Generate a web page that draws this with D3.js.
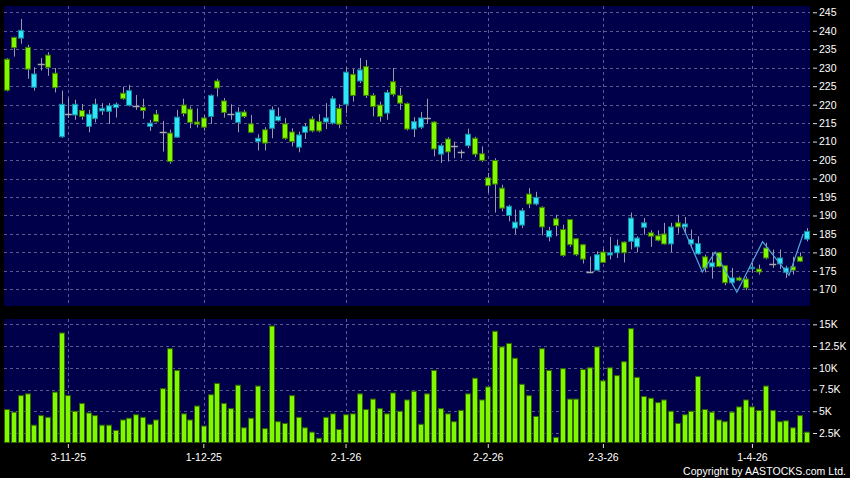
<!DOCTYPE html>
<html>
<head>
<meta charset="utf-8">
<script src="https://cdnjs.cloudflare.com/ajax/libs/d3/7.8.5/d3.min.js"></script>
<style>
  body { margin: 0; background: #000; }
  svg { display: block; }
  text { font-family: "Liberation Sans", Arial, sans-serif; fill: #fff; }
</style>
</head>
<body>
<script>
// Daily candles, oldest first (price in HKD)
const opens = [223.9,235.4,240.1,229.6,228.3,231.0,230.1,224.6,220.1,217.4,
  220.1,216.8,217.4,220.1,219.0,219.7,220.1,221.6,223.8,219.5,
  218.4,215.0,215.4,212.7,204.6,216.6,217.6,215.2,214.7,213.9,
  222.5,224.5,217.9,217.4,218.0,216.8,212.5,210.9,209.6,218.6,
  216.8,210.9,210.0,211.8,214.1,212.9,212.9,216.4,221.6,214.7,
  228.8,222.5,229.4,222.5,219.5,216.8,223.3,222.8,220.4,213.4,
  215.4,216.4,216.4,208.0,208.9,207.2,208.7,207.2,212.0,206.6,
  204.9,198.1,198.5,192.0,192.5,188.2,191.3,193.1,194.9,186.9,
  185.9,187.3,179.2,182.1,179.4,178.2,174.7,179.4,177.3,179.9,
  181.8,179.9,189.3,183.9,188.0,184.4,183.3,182.3,186.9,186.9,
  187.7,183.5,182.4,175.8,177.2,176.2,171.8,173.1,172.5,170.4,
  176.0,174.7,178.5,177.0,178.5,175.8,175.2,177.6,185.7];
const highs = [232.6,238.4,243.2,236.2,230.1,232.6,234.2,229.9,223.8,221.8,
  221.3,220.2,218.6,221.6,220.4,220.4,220.6,224.9,225.4,222.6,
  221.6,215.9,218.6,215.6,213.2,218.6,221.6,219.5,219.0,217.2,
  222.8,227.0,221.8,220.1,219.3,218.6,217.2,212.0,213.9,219.5,
  219.2,216.4,213.6,212.7,215.0,216.8,217.4,220.4,222.3,220.1,
  230.0,229.7,232.6,232.1,223.1,220.8,224.0,229.9,224.5,220.6,
  216.6,218.0,221.6,215.5,209.5,211.2,210.0,207.8,213.5,211.3,
  208.7,201.5,205.5,198.3,192.9,191.6,192.0,197.4,196.4,192.5,
  186.9,190.2,187.5,189.0,183.9,182.3,178.9,180.3,181.0,184.2,
  183.5,183.0,190.8,184.4,189.3,186.0,186.0,188.0,188.0,190.2,
  189.6,186.2,184.4,179.4,180.0,180.0,176.4,175.8,173.5,173.5,
  177.2,176.7,182.6,180.8,180.8,176.4,178.8,180.0,186.6];
const lows = [223.6,233.0,236.5,227.0,223.8,229.2,227.8,223.3,211.0,216.4,
  215.9,215.9,212.5,215.2,217.2,214.8,216.5,221.3,219.5,218.6,
  216.2,212.9,215.2,207.3,204.0,211.0,216.8,213.6,213.8,213.0,
  214.8,222.2,216.5,215.9,212.5,216.4,212.3,207.6,207.6,210.9,
  215.4,210.5,208.7,207.1,210.7,212.5,212.5,213.4,214.6,213.6,
  217.7,220.8,225.8,221.8,216.8,215.4,215.9,222.2,218.6,213.0,
  211.2,213.4,214.8,206.0,204.2,204.6,205.5,205.5,208.2,205.8,
  204.5,196.1,190.8,191.1,188.4,185.0,186.6,192.0,192.7,184.6,
  183.0,184.4,178.8,181.5,179.0,177.0,174.5,175.0,177.2,178.1,
  178.5,177.3,180.8,180.0,184.8,181.5,183.0,182.1,180.1,185.1,
  185.1,181.2,179.4,174.6,172.9,176.0,171.1,171.1,172.2,169.8,
  174.5,174.0,178.1,175.8,175.5,173.1,174.0,177.4,183.0];
const closes = [232.3,238.2,238.0,235.5,224.7,231.0,233.4,228.5,211.3,217.4,
  217.2,218.4,214.1,216.2,218.3,218.2,219.2,223.1,219.8,219.5,
  219.3,214.1,217.4,212.7,212.3,211.2,219.9,218.8,215.3,216.4,
  216.8,226.4,221.0,217.4,215.2,218.0,214.8,210.0,213.2,213.6,
  215.7,214.8,212.6,208.5,212.5,216.1,215.4,215.3,215.0,219.0,
  220.1,228.2,226.4,230.3,222.5,219.9,217.7,226.2,222.5,220.3,
  213.4,213.9,216.4,215.3,206.6,210.7,208.7,207.2,208.9,210.9,
  206.7,200.2,204.9,197.4,190.0,186.6,187.4,195.8,193.1,192.2,
  184.2,189.1,186.2,188.9,183.7,182.1,174.7,175.2,180.1,179.3,
  179.9,182.8,183.0,181.5,186.8,185.3,184.5,185.0,182.3,188.0,
  186.9,182.3,179.6,178.8,176.1,179.9,176.4,171.8,173.1,172.8,
  175.6,175.5,181.2,177.0,176.9,174.6,176.1,178.8,183.6];
// Volume, thousands of shares
const volumes = [5.2,4.9,6.8,7.0,3.4,4.5,4.3,7.2,14.0,6.8,
  5.0,5.9,4.8,4.5,3.4,3.4,2.8,4.0,4.2,4.6,
  4.3,3.5,4.0,7.6,12.2,9.7,4.7,4.0,5.6,3.3,
  6.9,8.2,5.9,5.3,8.0,3.1,4.2,7.9,3.0,14.8,
  3.8,3.6,6.8,4.3,3.1,2.6,1.9,4.3,4.7,2.9,
  4.6,4.7,7.0,5.2,6.4,5.3,4.7,7.1,5.0,6.3,
  7.3,3.5,7.0,9.7,5.3,4.7,3.8,5.1,7.0,8.8,
  6.3,7.8,14.2,12.4,12.8,11.1,8.1,6.8,4.4,12.2,
  9.7,2.0,9.9,6.4,6.4,9.8,10.0,12.4,8.5,10.0,
  9.1,10.7,14.5,8.9,6.7,6.5,6.0,6.3,5.0,3.6,
  4.6,5.0,9.0,5.2,4.9,4.0,3.8,4.9,5.5,6.3,
  5.5,5.1,7.9,5.1,3.8,3.9,3.1,4.5,2.6];

// x-axis: candle index of each labelled date
const dateTicks = [9, 29, 50, 71, 88, 110];
const dateLabels = ["3-11-25", "1-12-25", "2-1-26", "2-2-26", "2-3-26", "1-4-26"];
const priceTicks = [170, 175, 180, 185, 190, 195, 200, 205, 210, 215, 220, 225, 230, 235, 240, 245];
const volTicks = [2.5, 5, 7.5, 10, 12.5, 15];
const volLabels = ["2.5K", "5K", "7.5K", "10K", "12.5K", "15K"];

// hand-drawn trend line (fractional candle index, price)
const lineIdx = [99.6, 102.6, 104.5, 107.7, 111.5, 115.4, 117.5];
const lineVal = [187.5, 174.7, 180.1, 169.2, 182.9, 173.8, 185.0];

const width = 850, height = 478;
const plotLeft = 4, plotRight = 810;
const priceTop = 6, priceBottom = 306;
const volTop = 319, volBottom = 443;

const panelFill = "#00004a";
const gridColour = "#5a5a90";
const upFill = "#80f800", upEdge = "#3d7a00";
const downFill = "#30e4fa", downEdge = "#13889c";
const dojiColour = "#a8a8b0";
const wickColour = "#9a9aa8";

const candles = opens.map(function(o, i) {
  return { i: i, o: o, h: highs[i], l: lows[i], c: closes[i], v: volumes[i] };
});

const x = d3.scaleBand()
  .domain(d3.range(candles.length))
  .range([plotLeft, plotRight])
  .paddingInner(0.12)
  .paddingOuter(0.06);
const bw = x.bandwidth();

// same positions as x, but for fractional indices
const xLine = d3.scaleLinear()
  .domain([0, candles.length - 1])
  .range([x(0) + bw / 2, x(candles.length - 1) + bw / 2]);

const yPrice = d3.scaleLinear().domain([165.5, 246.7]).range([priceBottom, priceTop]);
const yVol = d3.scaleLinear().domain([1.35, 15.61]).range([volBottom, volTop]);

const svg = d3.select("body").append("svg")
  .attr("width", width)
  .attr("height", height);

svg.append("rect").attr("width", width).attr("height", height).attr("fill", "#000");

// panels
svg.append("rect")
  .attr("x", plotLeft).attr("y", priceTop)
  .attr("width", plotRight - plotLeft).attr("height", priceBottom - priceTop)
  .attr("fill", panelFill);
svg.append("rect")
  .attr("x", plotLeft).attr("y", volTop)
  .attr("width", plotRight - plotLeft).attr("height", volBottom - volTop)
  .attr("fill", panelFill);

// grid lines
const grid = svg.append("g")
  .attr("stroke", gridColour)
  .attr("stroke-width", 1)
  .attr("stroke-dasharray", "3,3")
  .attr("shape-rendering", "crispEdges");

grid.selectAll(".hp").data(priceTicks).enter().append("line")
  .attr("x1", plotLeft).attr("x2", plotRight)
  .attr("y1", d => Math.round(yPrice(d)) + 0.5).attr("y2", d => Math.round(yPrice(d)) + 0.5);

grid.selectAll(".hv").data(volTicks).enter().append("line")
  .attr("x1", plotLeft).attr("x2", plotRight)
  .attr("y1", d => Math.round(yVol(d)) + 0.5).attr("y2", d => Math.round(yVol(d)) + 0.5);

[[priceTop, priceBottom], [volTop, volBottom]].forEach(function(span) {
  grid.append("g").selectAll("line").data(dateTicks).enter().append("line")
    .attr("x1", d => Math.round(x(d) + bw / 2) + 0.5)
    .attr("x2", d => Math.round(x(d) + bw / 2) + 0.5)
    .attr("y1", span[0]).attr("y2", span[1]);
});

// candlesticks
const cg = svg.append("g");

cg.selectAll(".wick").data(candles).enter().append("line")
  .attr("x1", d => Math.round(x(d.i) + bw / 2) + 0.5)
  .attr("x2", d => Math.round(x(d.i) + bw / 2) + 0.5)
  .attr("y1", d => yPrice(d.h))
  .attr("y2", d => yPrice(d.l))
  .attr("stroke", wickColour)
  .attr("stroke-width", 1);

cg.selectAll(".body").data(candles.filter(d => d.c !== d.o)).enter().append("rect")
  .attr("x", d => Math.round(x(d.i)) + 0.5)
  .attr("y", d => yPrice(Math.max(d.o, d.c)))
  .attr("width", Math.round(bw) - 1)
  .attr("height", d => Math.max(1, Math.abs(yPrice(d.o) - yPrice(d.c))))
  .attr("fill", d => d.c > d.o ? upFill : downFill)
  .attr("stroke", d => d.c > d.o ? upEdge : downEdge)
  .attr("stroke-width", 1);

cg.selectAll(".doji").data(candles.filter(d => d.c === d.o)).enter().append("line")
  .attr("x1", d => x(d.i) - 0.5)
  .attr("x2", d => x(d.i) + bw + 0.5)
  .attr("y1", d => Math.round(yPrice(d.o)) + 0.5)
  .attr("y2", d => Math.round(yPrice(d.o)) + 0.5)
  .attr("stroke", dojiColour)
  .attr("stroke-width", 1.5);

// trend line
svg.append("path")
  .datum(lineIdx.map((d, k) => [d, lineVal[k]]))
  .attr("fill", "none")
  .attr("stroke", "#4fa6e0")
  .attr("stroke-width", 1.2)
  .attr("d", d3.line().x(d => xLine(d[0])).y(d => yPrice(d[1])));

// volume bars
svg.append("g").selectAll("rect").data(candles).enter().append("rect")
  .attr("x", d => Math.round(x(d.i)) + 0.5)
  .attr("y", d => yVol(d.v))
  .attr("width", Math.round(bw) - 1)
  .attr("height", d => volBottom - yVol(d.v) - 0.5)
  .attr("fill", upFill)
  .attr("stroke", "#2f6400")
  .attr("stroke-width", 1);

// axes
const priceAxis = d3.axisRight(yPrice)
  .tickValues(priceTicks)
  .tickSize(4)
  .tickPadding(2);
const volAxis = d3.axisRight(yVol)
  .tickValues(volTicks)
  .tickFormat((d, k) => volLabels[k])
  .tickSize(4)
  .tickPadding(2);
const dateAxis = d3.axisBottom(x)
  .tickValues(dateTicks)
  .tickFormat((d, k) => dateLabels[k])
  .tickSize(4)
  .tickPadding(6);

function styleAxis(g) {
  g.select(".domain").remove();
  g.selectAll(".tick line").attr("stroke", "#ddd");
  g.selectAll("text")
    .attr("fill", "#fff")
    .style("font-size", "10.5px")
    .style("font-family", "'Liberation Sans', Arial, sans-serif");
}

svg.append("g").attr("transform", "translate(813,0)").call(priceAxis).call(styleAxis);
svg.append("g").attr("transform", "translate(813,0)").call(volAxis).call(styleAxis);
svg.append("g").attr("transform", "translate(0," + (volBottom + 1) + ")").call(dateAxis).call(styleAxis);

svg.append("text")
  .attr("x", 846)
  .attr("y", 475)
  .attr("text-anchor", "end")
  .attr("textLength", 163)
  .attr("lengthAdjust", "spacing")
  .style("font-size", "10.5px")
  .text("Copyright by AASTOCKS.com Ltd.");
</script>
</body>
</html>
